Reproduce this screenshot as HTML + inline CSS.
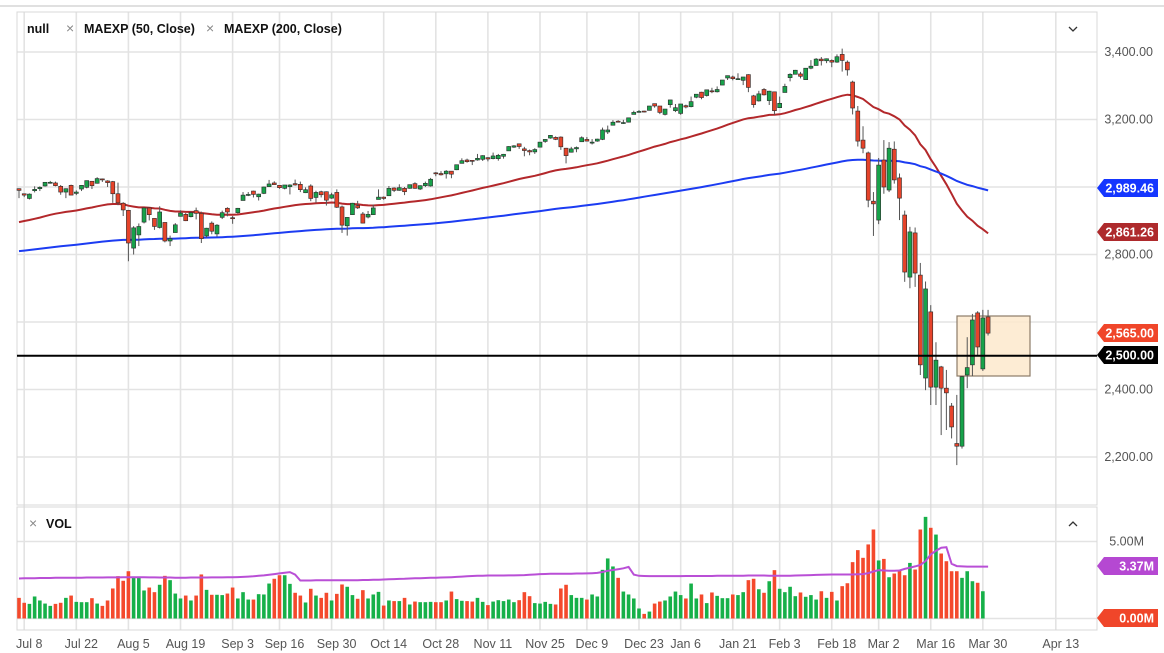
<!DOCTYPE html>
<html><head><meta charset="utf-8">
<style>
html,body{margin:0;padding:0;background:#fff;}
svg{display:block;font-family:"Liberation Sans",sans-serif;}
</style></head>
<body>
<svg id="chart" width="1164" height="653" viewBox="0 0 1164 653" xmlns="http://www.w3.org/2000/svg">
  <line x1="0" y1="6" x2="1164" y2="6" stroke="#d6d6d6" stroke-width="1.5"/>
  <g id="grid"></g>
  <rect x="17" y="12" width="1080" height="493" fill="none" stroke="#d8d8d8" stroke-width="1"/>
  <rect x="17" y="507" width="1080" height="123" fill="none" stroke="#d8d8d8" stroke-width="1"/>
  <rect x="957" y="316" width="73" height="60" fill="#fde9cc" fill-opacity="0.85" stroke="#8c7b68" stroke-width="1.2"/>
  <g id="mas"></g>
  <g id="candles"></g>
  <g id="vols"></g>
  <line x1="17" y1="355.8" x2="1097" y2="355.8" stroke="#000" stroke-width="2"/>
  <g id="axes"></g>
  <g font-weight="bold" font-size="12.5" fill="#111">
    <text x="27" y="33">null</text>
    <text x="66" y="33" fill="#888" font-weight="normal" font-size="14">×</text>
    <text x="84" y="33">MAEXP (50, Close)</text>
    <text x="206" y="33" fill="#888" font-weight="normal" font-size="14">×</text>
    <text x="224" y="33">MAEXP (200, Close)</text>
    <text x="29" y="528" fill="#888" font-weight="normal" font-size="14">×</text>
    <text x="46" y="528">VOL</text>
  </g>
  <polyline points="1069,27 1073,31 1077,27" fill="none" stroke="#333" stroke-width="1.3"/>
  <polyline points="1069,526 1073,522 1077,526" fill="none" stroke="#333" stroke-width="1.3"/>
</svg>
<script>
const tradingDays = {
  Jul:[5,8,9,10,11,12,15,16,17,18,19,22,23,24,25,26,29,30,31],
  Aug:[1,2,5,6,7,8,9,12,13,14,15,16,19,20,21,22,23,26,27,28,29,30],
  Sep:[3,4,5,6,9,10,11,12,13,16,17,18,19,20,23,24,25,26,27,30],
  Oct:[1,2,3,4,7,8,9,10,11,14,15,16,17,18,21,22,23,24,25,28,29,30,31],
  Nov:[1,4,5,6,7,8,11,12,13,14,15,18,19,20,21,22,25,26,27,29],
  Dec:[2,3,4,5,6,9,10,11,12,13,16,17,18,19,20,23,24,26,27,30,31],
  Jan:[2,3,6,7,8,9,10,13,14,15,16,17,21,22,23,24,27,28,29,30,31],
  Feb:[3,4,5,6,7,10,11,12,13,14,18,19,20,21,24,25,26,27,28],
  Mar:[2,3,4,5,6,9,10,11,12,13,16,17,18,19,20,23,24,25,26,27,30,31]
};
const opens = [
2995,2980,2966,2989,2995,3003,3012,3012,3002,2985,3005,2981,2994,2999,3017,3011,3024,3018,3016,
2980,2952,2931,2819,2858,2896,2938,2907,2880,2895,2840,2865,2913,2919,2912,2930,2922,2855,2893,2861,2910,2937,
2909,2924,2960,2975,2988,2971,2981,3001,3012,3005,2996,3001,3010,3008,2983,3003,2969,2986,2986,2967,
2984,2941,2885,2918,2945,2920,2911,2918,2963,2970,2974,2997,2990,2996,2996,3010,2994,3004,3003,3042,3040,3039,3047,
3051,3070,3080,3079,3080,3082,3087,3084,3084,3091,3107,3118,3128,3113,3108,3104,3118,3135,3145,3147,
3148,3115,3103,3113,3134,3141,3130,3136,3141,3163,3183,3195,3189,3192,3215,3221,3225,3227,3247,3240,3215,
3244,3226,3218,3241,3238,3266,3281,3271,3285,3282,3302,3323,3326,3318,3316,3333,3270,3255,3289,3256,3282,
3235,3280,3324,3334,3335,3318,3352,3360,3379,3374,3375,3370,3393,3370,3311,3225,3139,3101,2958,
2902,3080,2991,3112,3027,2917,2733,2864,2739,2434,2630,2407,2467,2404,2351,2240,2232,2443,2473,2627,2461,2615];
const highs = [
2996,2980,2981,3002,3002,3014,3018,3016,3006,2996,3007,2990,3005,3019,3017,3029,3025,3020,3018,
3013,2955,2932,2884,2892,2938,2940,2907,2943,2895,2856,2893,2931,2923,2928,2939,2927,2879,2898,2890,2930,2940,
2914,2938,2985,2985,2989,2980,3001,3021,3017,3005,3006,3008,3022,3016,2999,3008,2989,2989,2987,2983,
2993,2945,2911,2953,2959,2926,2929,2948,2993,2972,3003,2999,3008,3000,3007,3014,3005,3016,3027,3044,3047,3050,3047,
3066,3085,3084,3080,3098,3094,3088,3102,3098,3098,3121,3124,3128,3119,3111,3115,3133,3142,3154,3150,
3150,3116,3119,3120,3150,3148,3142,3143,3176,3182,3198,3198,3199,3205,3226,3228,3226,3240,3247,3240,3231,
3258,3246,3246,3244,3268,3275,3282,3288,3294,3298,3317,3330,3330,3337,3326,3334,3273,3285,3293,3285,3282,
3268,3306,3337,3347,3341,3352,3376,3382,3385,3381,3378,3393,3410,3375,3315,3240,3180,3105,2985,
3086,3139,3133,3135,3040,2930,2882,2880,2775,2720,2650,2540,2470,2458,2360,2384,2440,2555,2624,2632,2636,2636];
const lows = [
2967,2970,2963,2984,2988,3001,3010,3002,2977,2967,2976,2976,2988,2996,2994,3010,3015,3000,2953,
2946,2914,2780,2800,2825,2892,2901,2873,2877,2836,2825,2865,2913,2899,2910,2904,2834,2850,2860,2853,2905,2913,
2891,2921,2960,2973,2969,2960,2979,3001,3008,2995,2993,2978,3004,2985,2982,2958,2953,2969,2945,2965,
2938,2864,2856,2918,2935,2892,2907,2917,2963,2962,2974,2985,2989,2976,2995,2995,2991,3000,3001,3032,3034,3025,3026,
3050,3070,3072,3065,3078,3077,3076,3082,3078,3084,3107,3116,3113,3091,3094,3098,3117,3131,3143,3139,
3110,3070,3102,3103,3134,3135,3126,3134,3139,3157,3183,3191,3187,3191,3215,3221,3221,3227,3235,3216,3212,
3235,3222,3214,3233,3236,3263,3260,3268,3278,3280,3302,3317,3316,3318,3302,3281,3235,3253,3271,3243,3214,
3235,3280,3313,3334,3322,3317,3349,3360,3360,3367,3355,3368,3342,3330,3215,3120,3100,2940,2855,
2890,2980,2985,3010,2902,2719,2700,2704,2443,2398,2354,2354,2265,2280,2255,2176,2225,2404,2440,2500,2455,2560];
const closes = [
2990,2976,2979,2993,2999,3014,3014,3004,2985,2995,2976,2985,3005,3019,3004,3025,3021,3013,2980,
2953,2932,2834,2879,2883,2938,2918,2883,2926,2840,2847,2888,2923,2900,2924,2922,2847,2878,2869,2887,2924,2926,
2906,2937,2976,2978,2978,2979,3000,3009,3007,2998,3006,3006,3006,2992,2992,2966,2984,2977,2961,2977,
2940,2887,2910,2952,2938,2893,2919,2938,2970,2966,2996,2990,2998,2986,3007,2996,3004,3011,3023,3039,3036,3047,3038,
3066,3078,3075,3077,3085,3093,3083,3092,3094,3097,3120,3122,3120,3108,3104,3111,3133,3141,3153,3141,
3119,3093,3113,3117,3146,3136,3133,3142,3169,3169,3192,3192,3191,3205,3221,3224,3223,3240,3240,3221,3231,
3258,3235,3246,3237,3253,3275,3265,3288,3283,3289,3317,3330,3321,3321,3326,3295,3244,3276,3273,3284,3226,
3248,3298,3334,3346,3328,3352,3358,3379,3374,3380,3370,3386,3375,3347,3234,3136,3115,2961,2950,
3065,3000,3115,3021,2967,2748,2867,2745,2473,2698,2407,2487,2404,2390,2289,2232,2438,2465,2606,2526,2612,2567];
const volumes = [
1.34,1.02,0.95,1.43,1.17,0.97,0.82,0.95,1.02,1.34,1.49,1.08,1.06,1.06,1.32,0.97,0.82,1.17,1.95,
2.75,2.45,3.07,2.73,2.73,1.82,2.01,1.71,2.19,2.77,2.49,1.62,1.30,1.49,1.17,1.49,2.86,1.86,1.54,1.54,1.52,1.62,
2.01,1.30,1.71,1.23,1.23,1.58,1.56,2.27,2.58,2.81,2.81,2.25,1.67,1.49,1.04,1.93,1.49,1.34,1.67,1.17,
1.60,2.21,2.06,1.52,1.28,1.84,1.30,1.56,1.73,0.84,1.17,1.13,1.13,1.34,0.91,1.10,1.06,1.06,1.08,1.06,1.06,1.17,1.75,
1.26,1.15,1.13,1.10,1.34,1.08,0.87,1.10,1.19,1.13,1.23,1.06,1.19,1.71,1.45,1.00,0.97,1.08,0.95,0.91,
1.95,2.19,1.52,1.34,1.34,1.23,1.56,1.43,3.16,3.90,3.38,2.64,1.75,1.56,1.30,0.65,0.30,0.45,0.97,1.10,1.17,
1.43,1.75,1.52,1.30,2.27,1.30,1.56,1.00,1.69,1.47,1.32,1.32,1.56,1.52,1.71,2.49,2.58,1.90,1.67,2.42,3.14,
1.93,1.71,2.06,1.45,1.69,1.41,1.52,1.23,1.77,1.34,1.73,1.17,2.10,2.29,3.66,4.44,3.94,4.81,5.78,
3.77,3.87,2.68,2.92,3.16,2.81,3.61,3.18,5.78,6.60,5.89,5.45,4.22,3.72,3.07,3.07,2.64,3.07,2.42,2.32,1.77,0];
const volumeMA = [
2.60,2.61,2.62,2.62,2.63,2.63,2.63,2.64,2.64,2.64,2.65,2.65,2.65,2.66,2.66,2.66,2.66,2.67,2.67,
2.67,2.68,2.68,2.68,2.68,2.68,2.67,2.67,2.66,2.66,2.66,2.65,2.65,2.65,2.66,2.66,2.66,2.66,2.67,2.67,2.67,2.68,
2.68,2.69,2.70,2.72,2.74,2.77,2.80,2.84,2.88,2.93,2.97,3.01,2.85,2.47,2.47,2.47,2.48,2.48,2.48,2.48,
2.48,2.48,2.49,2.49,2.49,2.50,2.50,2.51,2.52,2.53,2.55,2.56,2.57,2.58,2.60,2.61,2.62,2.63,2.64,2.65,2.66,2.67,2.68,
2.70,2.72,2.74,2.76,2.77,2.78,2.79,2.79,2.79,2.79,2.80,2.80,2.81,2.82,2.84,2.86,2.88,2.89,2.90,2.90,
2.90,2.91,2.91,2.92,2.92,2.93,2.94,2.96,3.02,3.10,3.15,3.20,3.26,3.35,2.85,2.77,2.76,2.75,2.75,2.75,2.75,
2.75,2.75,2.75,2.76,2.76,2.76,2.76,2.76,2.76,2.77,2.77,2.77,2.78,2.78,2.78,2.79,2.79,2.79,2.79,2.78,2.77,
2.77,2.77,2.78,2.79,2.80,2.81,2.82,2.83,2.84,2.85,2.86,2.86,2.86,2.86,2.86,2.87,2.88,2.95,3.05,
3.14,3.12,3.10,3.10,3.12,3.22,3.30,3.38,3.48,3.72,4.16,4.40,4.60,4.63,3.55,3.40,3.38,3.37,3.37,3.37,3.37,3.37];
const emaSeeds = [2896, 2810];
const emaPeriods = [50, 200];
const priceTicks = [3400, 3200, 2800, 2400, 2200];
const priceTickLabels = ["3,400.00","3,200.00","2,800.00","2,400.00","2,200.00"];
const gridPrices = [3400,3200,3000,2800,2600,2400,2200];
const volTicks = [5];
const volTickLabels = ["5.00M"];
const xTickLabels = ["Jul 8","Jul 22","Aug 5","Aug 19","Sep 3","Sep 16","Sep 30","Oct 14","Oct 28","Nov 11","Nov 25","Dec 9","Dec 23","Jan 6","Jan 21","Feb 3","Feb 18","Mar 2","Mar 16","Mar 30","Apr 13"];
const futureTickOffset = 13;

const NS = "http://www.w3.org/2000/svg";
const X0 = 19, DX = 5.21;
const xOf = i => X0 + i * DX;
const yP = p => 52 + (3400 - p) * 0.3375;
const yV = v => 618.5 - v * 15.4;
function mk(tag, parent, attrs) {
  const e = document.createElementNS(NS, tag);
  for (const k in attrs) e.setAttribute(k, attrs[k]);
  parent.appendChild(e);
  return e;
}
const dates = [];
for (const m in tradingDays) for (const d of tradingDays[m]) dates.push(m + " " + d);
const n = closes.length;

const grid = document.getElementById('grid');
for (const p of gridPrices) {
  const l = mk('line', grid, {x1:17, x2:1097, y1:yP(p), y2:yP(p), stroke:'#e3e3e3', 'stroke-width':1.6});
  
  
}
for (const v of [5, 0]) {
  const l = mk('line', grid, {x1:17, x2:1097, y1:yV(v), y2:yV(v), stroke:'#e3e3e3', 'stroke-width':1.6});
  
  
}
const axes = document.getElementById('axes');
xTickLabels.forEach(lbl => {
  let idx = dates.indexOf(lbl);
  if (idx < 0) idx = n - 1 + futureTickOffset;
  const x = xOf(idx);
  const l = mk('line', grid, {x1:x, x2:x, y1:12, y2:630, stroke:'#e3e3e3', 'stroke-width':1.6});
  
  
  const t = mk('text', axes, {x:x+5, y:648, 'text-anchor':'middle', 'font-size':12.5, fill:'#555'});
  t.textContent = lbl;
  
  
});
priceTicks.forEach((p, k) => {
  const t = mk('text', axes, {x:1153, y:yP(p)+4, 'text-anchor':'end', 'font-size':12.5, fill:'#555'});
  t.textContent = priceTickLabels[k];
  
  
});
volTicks.forEach((v, k) => {
  const t = mk('text', axes, {x:1144, y:yV(v)+4, 'text-anchor':'end', 'font-size':12.5, fill:'#555'});
  t.textContent = volTickLabels[k];
  
  
});

const mas = document.getElementById('mas');
const emaColors = ['#b3282b', '#1c3cf2'];
emaPeriods.forEach((per, k) => {
  const a = 2 / (per + 1);
  let e = emaSeeds[k];
  const pts = [];
  for (let i = 0; i < n; i++) {
    e = i === 0 ? e : e + a * (closes[i] - e);
    pts.push(xOf(i).toFixed(1) + ',' + yP(e).toFixed(1));
  }
  const pl = mk('polyline', mas, {points:pts.join(' '), fill:'none', stroke:emaColors[k], 'stroke-width':2});
  
  
});

const cg = document.getElementById('candles');
for (let i = 0; i < n; i++) {
  const x = xOf(i);
  const up = closes[i] >= opens[i];
  const w = mk('line', cg, {x1:x, x2:x, y1:yP(highs[i]), y2:yP(lows[i]), stroke:'#555', 'stroke-width':1});
  
  
  const top = yP(Math.max(opens[i], closes[i]));
  const h = Math.max(1, Math.abs(yP(opens[i]) - yP(closes[i])));
  const b = mk('rect', cg, {x:x-2, y:top, width:4, height:h, fill: up ? '#17a24a' : '#e6432a', stroke:'#2a2a2a', 'stroke-width':0.6});
  
  
}

const vg = document.getElementById('vols');
for (let i = 0; i < n; i++) {
  if (volumes[i] <= 0) continue;
  const up = closes[i] >= opens[i];
  const r = mk('rect', vg, {x:xOf(i)-1.8, y:yV(volumes[i]), width:3.6, height:volumes[i]*15.4, fill: up ? '#16b049' : '#f4492c'});
  
  
}
const vpts = volumeMA.map((v, i) => xOf(i).toFixed(1) + ',' + yV(v).toFixed(1)).join(' ');
const vl = mk('polyline', vg, {points:vpts, fill:'none', stroke:'#b94fd6', 'stroke-width':2});



function tag(text, color, yy, name) {
  const g = mk('g', axes, {});
  
  
  mk('path', g, {d:`M1097,${yy} L1104,${yy-9} L1158,${yy-9} L1158,${yy+9} L1104,${yy+9} Z`, fill:color});
  const t = mk('text', g, {x:1154, y:yy+4.5, 'text-anchor':'end', 'font-size':12.5, 'font-weight':'bold', fill:'#fff'});
  t.textContent = text;
}
tag('2,989.46', '#1536ff', 188, 'ema-200-price-tag');
tag('2,861.26', '#ae2a2c', 232, 'ema-50-price-tag');
tag('2,565.00', '#f0462a', 333, 'last-price-tag');
tag('2,500.00', '#000', 355, 'level-price-tag');
tag('3.37M', '#b548d2', 566, 'volume-ma-tag');
tag('0.00M', '#f0462a', 618, 'volume-last-tag');
</script>
</body></html>
